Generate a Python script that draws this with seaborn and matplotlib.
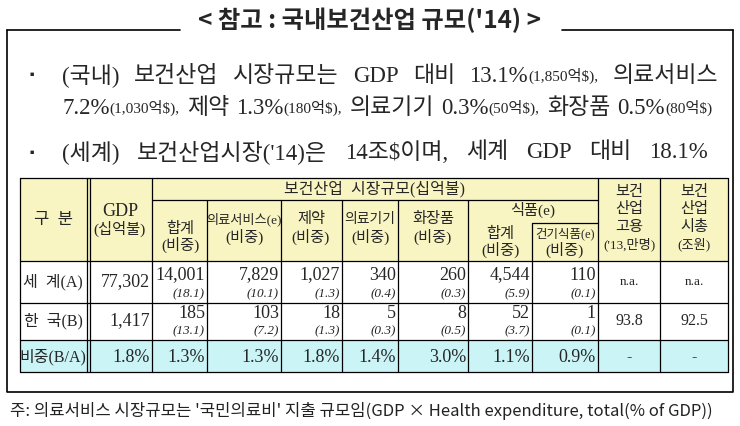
import numpy as np
import matplotlib.pyplot as plt
from matplotlib.patches import Rectangle
import seaborn as sns

sns.set_theme(style='white')
plt.rcParams['font.family'] = ['Liberation Serif', 'Noto Sans CJK KR']

# ── data ──
title = "< 참고 : 국내보건산업 규모('14) >"
row_labels = ['세  계(A)', '한  국(B)', '비중(B/A)']
gdp = ['77,302', '1,417', '1.8%']
world_vals = [14001, 7829, 1027, 340, 260, 4544, 110]
world_share = [18.1, 10.1, 1.3, 0.4, 0.3, 5.9, 0.1]
korea_vals = [185, 103, 18, 5, 8, 52, 1]
korea_share = [13.1, 7.2, 1.3, 0.3, 0.5, 3.7, 0.1]
ratio = [1.3, 1.3, 1.8, 1.4, 3.0, 1.1, 0.9]
employment = ['n.a.', '93.8', '-']
market_cap = ['n.a.', '92.5', '-']
footnote = "주: 의료서비스 시장규모는 '국민의료비' 지출 규모임(GDP × Health expenditure, total(% of GDP))"

SERIF = ['Liberation Serif', 'Noto Sans CJK KR']
SANS = ['Noto Sans CJK KR', 'DejaVu Sans']
YELLOW = '#f8f5c2'
CYAN = '#cbf4f7'

fig = plt.figure(figsize=(7.4, 4.26), dpi=100)
ax = fig.add_axes([0, 0, 1, 1])
ax.set_xlim(0, 740)
ax.set_ylim(426, 0)
ax.axis('off')
renderer = fig.canvas.get_renderer()


def seg_width(text, size):
    t = ax.text(0, 0, text, fontsize=size, family=SERIF)
    w = t.get_window_extent(renderer).width
    t.remove()
    return w


def draw_line(x0, x1, y, words):
    # words: list of lists of (text, size); spaces stretched to reach x1
    widths = [[seg_width(s, z) for s, z in w] for w in words]
    total = sum(sum(w) for w in widths)
    gap = (x1 - x0 - total) / max(len(words) - 1, 1)
    x = x0
    for w, ws in zip(words, widths):
        for (s, z), sw in zip(w, ws):
            ax.text(x, y, s, fontsize=z, family=SERIF, va='center', ha='left')
            x += sw
        x += gap


# ── title & frame ──
ax.text(370, 20, title, fontsize=17.5, fontweight='bold', family=SANS,
        ha='center', va='center')
ax.plot([7, 180], [30, 30], color='black', lw=1.2)
ax.plot([562, 733], [30, 30], color='black', lw=1.2)
ax.plot([7, 7, 733, 733], [30, 392, 392, 30], color='black', lw=1.2)

# ── bullet text ──
B, P = 16.5, 11
ax.text(32, 76, '▪', fontsize=9, family=SANS, ha='center', va='center')
draw_line(62, 718, 76, [[('(국내)', B)], [('보건산업', B)], [('시장규모는', B)],
                        [('GDP', B)], [('대비', B)],
                        [('13.1%', B), ('(1,850억$),', P)], [('의료서비스', B)]])
draw_line(62, 712, 108, [[('7.2%', B), ('(1,030억$),', P)], [('제약', B)],
                         [('1.3%', B), ('(180억$),', P)], [('의료기기', B)],
                         [('0.3%', B), ('(50억$),', P)], [('화장품', B)],
                         [('0.5%', B), ('(80억$)', P)]])
ax.text(32, 153, '▪', fontsize=9, family=SANS, ha='center', va='center')
draw_line(62, 708, 153, [[('(세계)', B)], [("보건산업시장('14)은", B)],
                         [('14조$이며,', B)], [('세계', B)], [('GDP', B)],
                         [('대비', B)], [('18.1%', B)]])

# ── table geometry ──
L, R = 20, 728
top, sub1, sub2, hdr = 178, 200, 223, 261
r1, r2, r3 = 303, 340, 372
edges = [20, 90, 152, 207, 281, 342, 398, 468, 532, 598, 660, 728]

ax.add_patch(Rectangle((L, top), R - L, hdr - top, color=YELLOW, lw=0))
ax.add_patch(Rectangle((L, r2), R - L, r3 - r2, color=CYAN, lw=0))

lw = 0.9
for y in [top, hdr, r1, r2, r3]:
    ax.plot([L, R], [y, y], color='black', lw=lw)
ax.plot([152, 598], [sub1, sub1], color='black', lw=lw)
ax.plot([532, 598], [sub2, sub2], color='black', lw=lw)
for x in [L, 87, 90, 152, 598, 660, R]:
    ax.plot([x, x], [top, r3], color='black', lw=lw)
for x in [207, 281, 342, 398, 468]:
    ax.plot([x, x], [sub1, r3], color='black', lw=lw)
ax.plot([532, 532], [sub2, r3], color='black', lw=lw)

# ── header text ──
H = 11
ax.text(53, 220, '구  분', fontsize=H + 1, ha='center', va='center')
ax.text(120, 211, 'GDP', fontsize=H + 2, ha='center', va='center')
ax.text(120, 229, '(십억불)', fontsize=H, ha='center', va='center')
ax.text(375, 189, '보건산업  시장규모(십억불)', fontsize=H + 0.5, ha='center', va='center')
ax.text(180, 229, '합계', fontsize=H, ha='center', va='center')
ax.text(180, 245, '(비중)', fontsize=H, ha='center', va='center')
for cx, name, sz in [(244, '의료서비스(e)', 9.5), (311, '제약', H),
                     (370, '의료기기', 10), (433, '화장품', H)]:
    ax.text(cx, 219, name, fontsize=sz, ha='center', va='center')
    ax.text(cx, 237, '(비중)', fontsize=H, ha='center', va='center')
ax.text(533, 210, '식품(e)', fontsize=H, ha='center', va='center')
ax.text(500, 234, '합계', fontsize=H, ha='center', va='center')
ax.text(500, 250, '(비중)', fontsize=H, ha='center', va='center')
ax.text(565, 234, '건기식품(e)', fontsize=9, ha='center', va='center')
ax.text(565, 250, '(비중)', fontsize=H, ha='center', va='center')
for cx, lines in [(629, ['보건', '산업', '고용', "('13,만명)"]),
                  (694, ['보건', '산업', '시총', '(조원)'])]:
    for i, s in enumerate(lines):
        ax.text(cx, 192 + i * 17.5, s, fontsize=H if i < 3 else 9.5,
                ha='center', va='center')

# ── body ──
N = 13
row_mid = [282, 321, 357]
for lab, gv, y in zip(row_labels, gdp, row_mid):
    ax.text(53, y, lab, fontsize=H + 0.5, ha='center', va='center')
    ax.text(150, y, gv, fontsize=N, ha='right', va='center')

for i in range(len(world_vals)):
    xr = edges[i + 3] - 2
    ax.text(xr, 275, f'{world_vals[i]:,}', fontsize=N, ha='right', va='center')
    ax.text(xr, 294, f'({world_share[i]:.1f})', fontsize=9.5, style='italic',
            ha='right', va='center')
    ax.text(xr, 313, f'{korea_vals[i]:,}', fontsize=N, ha='right', va='center')
    ax.text(xr, 331, f'({korea_share[i]:.1f})', fontsize=9.5, style='italic',
            ha='right', va='center')
    ax.text(xr, 357, f'{ratio[i]:.1f}%', fontsize=N, ha='right', va='center')

for cx, col in [(629, employment), (694, market_cap)]:
    for s, y in zip(col, row_mid):
        ax.text(cx, y, s, fontsize=11.5 if s != 'n.a.' else 9.5, ha='center', va='center')

# ── footnote ──
ax.text(10, 411, footnote, fontsize=12, family=SANS, color='#222222',
        ha='left', va='center')

fig.savefig('out.png', dpi=100)
